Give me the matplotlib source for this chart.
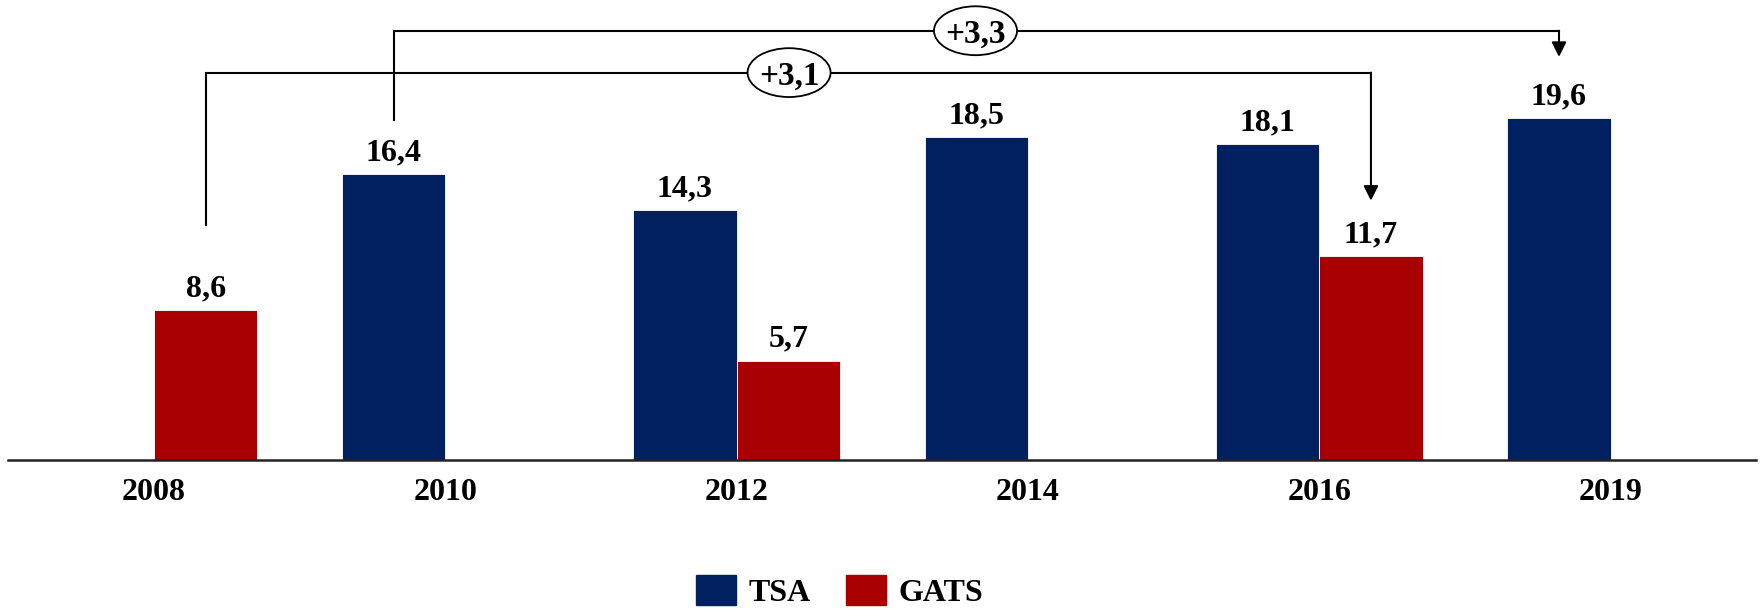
import matplotlib
matplotlib.use('Agg')
import matplotlib.pyplot as plt
from matplotlib.patches import Ellipse, Patch
import numpy as np

# data
years = ['2008', '2010', '2012', '2014', '2016', '2019']
tsa = [np.nan, 16.4, 14.3, 18.5, 18.1, 19.6]
gats = [8.6, np.nan, 5.7, np.nan, 11.7, np.nan]

# growth brackets: from (group, series) to (group, series)
bracket_labels = ['+3,3', '+3,1']
bracket_from = [1, 0]
bracket_to = [5, 4]
bracket_series = ['TSA', 'GATS']

TSA_COLOR = '#002060'
GATS_COLOR = '#A80000'
FONT = 'Liberation Serif'
FS = 23

plt.rcParams['font.family'] = FONT
plt.rcParams['font.weight'] = 'bold'

fig = plt.figure(figsize=(17.6, 6.1), dpi=100)
ax = fig.add_axes([0.0047, 150 / 610, 0.9932, 460 / 610])

x = np.arange(len(years))
w = 0.3545
ax.bar(x - w / 2, tsa, w, color=TSA_COLOR, edgecolor='white', linewidth=0.6)
ax.bar(x + w / 2, gats, w, color=GATS_COLOR, edgecolor='white', linewidth=0.6)

# value labels
for xs, vals in ((x - w / 2, tsa), (x + w / 2, gats)):
    for xi, v in zip(xs, vals):
        if np.isnan(v):
            continue
        ax.annotate(f'{v:.1f}'.replace('.', ','), (xi, v), xytext=(0, 10),
                    textcoords='offset points', ha='center', va='baseline',
                    fontsize=FS, fontweight='bold')

# brackets
levels = [24.6, 22.2]
start_gap = [3.1, 4.85]
end_gap = [3.5, 3.16]
label_x = [2.82, 2.18]
for i in range(len(bracket_labels)):
    off = -w / 2 if bracket_series[i] == 'TSA' else w / 2
    vals = tsa if bracket_series[i] == 'TSA' else gats
    x0 = bracket_from[i] + off
    x1 = bracket_to[i] + off
    y0 = vals[bracket_from[i]] + start_gap[i]
    y1 = vals[bracket_to[i]] + end_gap[i]
    ax.plot([x0, x0, x1], [y0, levels[i], levels[i]], color='black', lw=1.5,
            solid_joinstyle='miter', zorder=3)
    ax.annotate('', xy=(x1, y1), xytext=(x1, levels[i]),
                arrowprops=dict(arrowstyle='-|>', color='black', lw=1.5,
                                mutation_scale=22, shrinkA=0, shrinkB=0),
                zorder=3)
    ax.add_patch(Ellipse((label_x[i], levels[i]), 0.285, 2.8, facecolor='white',
                         edgecolor='black', lw=1.3, zorder=4))
    ax.text(label_x[i], levels[i], bracket_labels[i], ha='center', va='center_baseline',
            fontsize=FS + 1, fontweight='bold', zorder=5)

ax.set_xlim(-0.5, 5.5)
ax.set_ylim(0, 460 / 17.45)
ax.set_xticks(x)
ax.set_xticklabels(years, fontsize=FS, fontweight='bold')
ax.tick_params(axis='x', length=0, pad=13)
ax.set_yticks([])
for s in ('top', 'right', 'left'):
    ax.spines[s].set_visible(False)
ax.spines['bottom'].set_linewidth(1.8)
ax.spines['bottom'].set_color('#222222')

handles = [Patch(color=TSA_COLOR, label='TSA'), Patch(color=GATS_COLOR, label='GATS')]
fig.legend(handles=handles, loc='center', bbox_to_anchor=(0.477, 0.03), ncol=2,
           frameon=False, prop={'family': FONT, 'weight': 'bold', 'size': FS},
           handlelength=1.25, handleheight=1.05, handletextpad=0.4, columnspacing=1.1)

fig.savefig('out.png', dpi=100)
